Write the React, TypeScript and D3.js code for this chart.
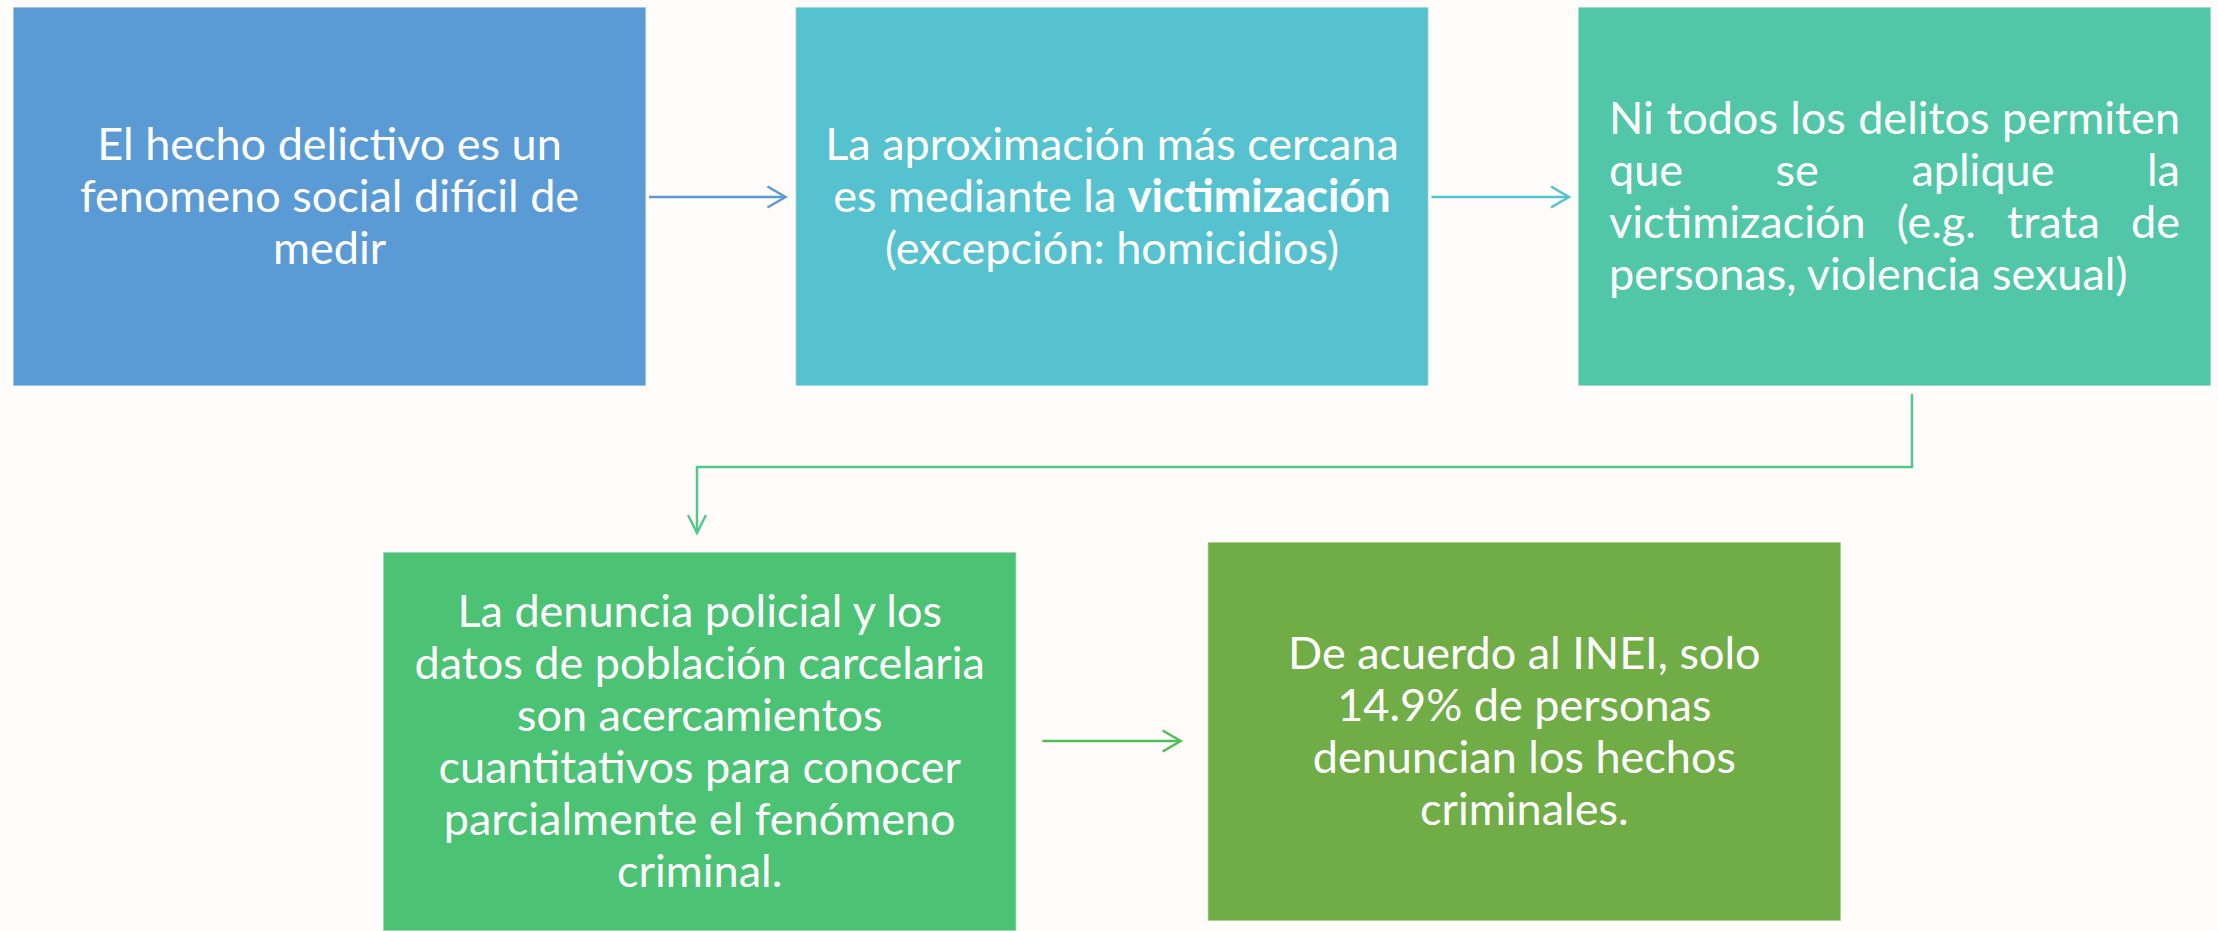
import React, { useEffect, useRef } from 'react'
import * as d3 from 'd3'

// box texts, in reading order; **x** marks bold words
const box1Lines = ['El hecho delictivo es un', 'fenomeno social difícil de', 'medir']
const box2Lines = ['La aproximación más cercana', 'es mediante la **victimización**', '(excepción: homicidios)']
const box3Lines = ['Ni todos los delitos permiten', 'que se aplique la', 'victimización (e.g. trata de', 'personas, violencia sexual)']
const box4Lines = [
  'La denuncia policial y los',
  'datos de población carcelaria',
  'son acercamientos',
  'cuantitativos para conocer',
  'parcialmente el fenómeno',
  'criminal.',
]
const box5Lines = ['De acuerdo al INEI, solo', '14.9% de personas', 'denuncian los hechos', 'criminales.']

const boxAlign = ['middle', 'middle', 'justify', 'middle', 'middle']
const boxColors = ['#5B9BD5', '#56C2CF', '#52C7A8', '#4CC274', '#71AD47']
const arrowColors = ['#5B9BD5', '#4FC6CF', '#52C88F', '#4CBF58']

const FONT = 'Lato, "Open Sans", sans-serif'

function parseSegments(line) {
  return line.split(/(\*\*[^*]+\*\*)/).filter(Boolean).map((s) =>
    s.startsWith('**') ? { text: s.slice(2, -2), bold: true } : { text: s, bold: false })
}

export default function App() {
  const svgRef = useRef()

  useEffect(() => {
    const width = 2218
    const height = 931
    const fontSize = 45
    const lineHeight = 52
    const boxH = 379
    const pad = 31

    const svg = d3.select(svgRef.current)
    svg.selectAll('*').remove()
    svg.attr('viewBox', `0 0 ${width} ${height}`)

    svg.append('rect').attr('width', width).attr('height', height).attr('fill', '#FFFCF9')

    const xTop = d3.scaleBand().domain([0, 1, 2]).range([13, 2211]).paddingInner(0.191)
    const xBot = d3.scaleBand().domain([0, 1]).range([383, 1841]).paddingInner(0.232)

    const allLines = [box1Lines, box2Lines, box3Lines, box4Lines, box5Lines]
    const boxes = allLines.map((lines, i) => {
      const top = i < 3
      return {
        lines,
        x: top ? xTop(i) : xBot(i - 3),
        y: top ? 7 : [552, 542][i - 3],
        w: top ? xTop.bandwidth() : xBot.bandwidth(),
        h: boxH,
        color: boxColors[i],
        align: boxAlign[i],
      }
    })

    // measurer for justified text
    const measure = svg.append('text').attr('font-family', FONT).attr('font-size', fontSize).attr('visibility', 'hidden')
    const textWidth = (s) => {
      measure.text(s)
      return measure.node().getComputedTextLength()
    }

    boxes.forEach((b) => {
      const g = svg.append('g')
      g.append('rect')
        .attr('x', b.x).attr('y', b.y)
        .attr('width', b.w).attr('height', b.h)
        .attr('fill', b.color)
        .attr('stroke', '#ffffff').attr('stroke-opacity', 0.55).attr('stroke-width', 1.5)

      const n = b.lines.length
      const cy = b.y + b.h / 2
      const firstBase = cy - ((n - 1) * lineHeight) / 2 + fontSize * 0.34

      b.lines.forEach((line, li) => {
        const base = firstBase + li * lineHeight
        if (b.align === 'justify') {
          const words = line.split(/\s+/)
          const left = b.x + pad
          const right = b.x + b.w - pad
          if (li === n - 1 || words.length < 2) {
            g.append('text').attr('x', left).attr('y', base)
              .attr('font-family', FONT).attr('font-size', fontSize).attr('fill', '#fff')
              .text(line)
            return
          }
          const widths = words.map(textWidth)
          const gap = (right - left - d3.sum(widths)) / (words.length - 1)
          let cx = left
          words.forEach((w, wi) => {
            g.append('text').attr('x', cx).attr('y', base)
              .attr('font-family', FONT).attr('font-size', fontSize).attr('fill', '#fff')
              .text(w)
            cx += widths[wi] + gap
          })
          return
        }
        const t = g.append('text')
          .attr('x', b.x + b.w / 2).attr('y', base)
          .attr('text-anchor', 'middle')
          .attr('font-family', FONT).attr('font-size', fontSize).attr('fill', '#fff')
          .style('white-space', 'pre')
        parseSegments(line).forEach((seg) => {
          t.append('tspan').attr('font-weight', seg.bold ? 700 : 400).text(seg.text)
        })
      })
    })
    measure.remove()

    // arrows
    const head = (g, tip, dir, color) => {
      const back = 18
      const half = 10.5
      const pts = dir === 'right'
        ? [[tip[0] - back, tip[1] - half], tip, [tip[0] - back, tip[1] + half]]
        : [[tip[0] - half * 0.85, tip[1] - back], tip, [tip[0] + half * 0.85, tip[1] - back]]
      g.append('path').attr('d', d3.line()(pts))
        .attr('fill', 'none').attr('stroke', color).attr('stroke-width', 2.5)
    }

    const arrowG = svg.append('g')
    const hArrow = (from, to, y, color) => {
      arrowG.append('path').attr('d', d3.line()([[from, y], [to, y]]))
        .attr('stroke', color).attr('stroke-width', 2.5).attr('fill', 'none')
      head(arrowG, [to, y], 'right', color)
    }

    const rowY = boxes[0].y + 190
    hArrow(boxes[0].x + boxes[0].w + 3, boxes[1].x - 10, rowY, arrowColors[0])
    hArrow(boxes[1].x + boxes[1].w + 3, boxes[2].x - 9, rowY, arrowColors[1])

    // elbow connector from box 3 down to box 4
    const sx = boxes[2].x + 334
    const tx = boxes[3].x + 314
    const midY = 467
    const tipY = boxes[3].y - 19
    arrowG.append('path')
      .attr('d', d3.line()([[sx, boxes[2].y + boxes[2].h + 8], [sx, midY], [tx, midY], [tx, tipY]]))
      .attr('fill', 'none').attr('stroke', arrowColors[2]).attr('stroke-width', 2.5)
    head(arrowG, [tx, tipY], 'down', arrowColors[2])

    hArrow(boxes[3].x + boxes[3].w + 26, boxes[4].x - 27, 741, arrowColors[3])
  }, [])

  return (
    <div>
      <style>{'body{margin:0;background:#FFFCF9}'}</style>
      <svg ref={svgRef} width={2218} height={931} style={{ display: 'block' }} role="img" aria-label="Diagrama de flujo sobre la medición del delito" />
    </div>
  )
}
